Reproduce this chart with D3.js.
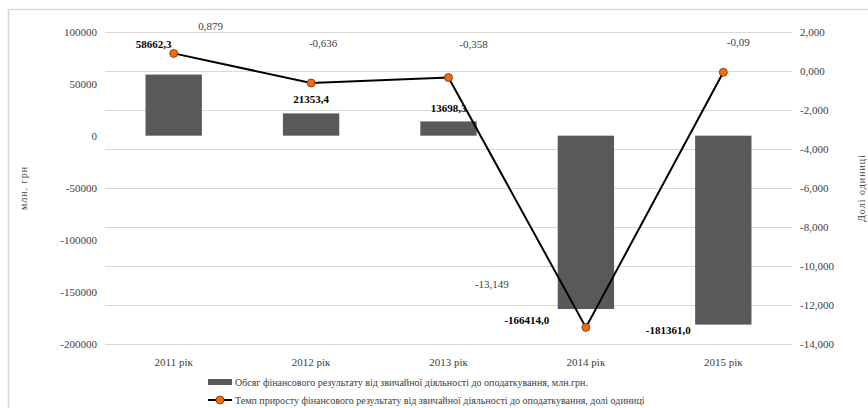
<!DOCTYPE html>
<html>
<head>
<meta charset="utf-8">
<script src="https://d3js.org/d3.v7.min.js"></script>
<style>
  body { margin: 0; background: #fff; }
</style>
</head>
<body>
<svg width="868" height="408"></svg>
<script>
// data
var years = ["2011 рік", "2012 рік", "2013 рік", "2014 рік", "2015 рік"];
var volume = [58662.3, 21353.4, 13698.3, -166414.0, -181361.0];
var growth = [0.879, -0.636, -0.358, -13.149, -0.09];
var volumeLabels = ["58662,3", "21353,4", "13698,3", "-166414,0", "-181361,0"];
var growthLabels = ["0,879", "-0,636", "-0,358", "-13,149", "-0,09"];
var leftTicks = [100000, 50000, 0, -50000, -100000, -150000, -200000];
var rightTicks = [2, 0, -2, -4, -6, -8, -10, -12, -14];
var seriesNames = [
  "Обсяг фінансового результату від звичайної діяльності до оподаткування, млн.грн.",
  "Темп приросту фінансового результату від звичайної діяльності до оподаткування, долі одиниці"
];

var svg = d3.select("svg");

// chart border (cropped on right/bottom)
svg.append("rect")
  .attr("x", 8.5).attr("y", 9.5)
  .attr("width", 900).attr("height", 420)
  .attr("fill", "none")
  .attr("stroke", "#d9d9d9")
  .attr("stroke-width", 1.5);

var plotLeft = 105, plotRight = 792, plotTop = 31.5, plotBottom = 344;

var x = d3.scaleBand().domain(years).range([plotLeft, plotRight]).paddingInner(0.59).paddingOuter(0.295);
var xc = d3.scaleBand().domain(years).range([plotLeft, plotRight]);
var yL = d3.scaleLinear().domain([-200000, 100000]).range([plotBottom, plotTop]);
var yR = d3.scaleLinear().domain([-14, 2]).range([plotBottom, plotTop]);

// gridlines (from right axis)
svg.append("g").selectAll("line")
  .data(rightTicks)
  .enter().append("line")
  .attr("x1", plotLeft).attr("x2", plotRight)
  .attr("y1", function(d) { return Math.round(yR(d)) + 0.5; })
  .attr("y2", function(d) { return Math.round(yR(d)) + 0.5; })
  .attr("stroke", "#d9d9d9")
  .attr("stroke-width", 1);

// left axis
var leftAxis = d3.axisLeft(yL).tickValues(leftTicks).tickSize(0).tickPadding(8)
  .tickFormat(function(d) { return String(d); });
var gL = svg.append("g").attr("transform", "translate(" + plotLeft + ",0)").call(leftAxis);
gL.select(".domain").remove();
gL.selectAll("text").attr("fill", "#404040");

// right axis
var rightAxis = d3.axisRight(yR).tickValues(rightTicks).tickSize(0).tickPadding(8)
  .tickFormat(function(d) { return d3.format(".3f")(d).replace(".", ",").replace("−", "-"); });
var gR = svg.append("g").attr("transform", "translate(" + plotRight + ",0)").call(rightAxis);
gR.select(".domain").remove();
gR.selectAll("text").attr("fill", "#404040");

// x axis labels
var gX = svg.append("g").attr("transform", "translate(0," + (plotBottom + 6) + ")")
  .call(d3.axisBottom(xc).tickSize(0).tickPadding(8));
gX.select(".domain").remove();
gX.selectAll("text").attr("fill", "#404040");

// bars
svg.append("g").selectAll("rect")
  .data(volume)
  .enter().append("rect")
  .attr("x", function(d, i) { return x(years[i]); })
  .attr("width", x.bandwidth())
  .attr("y", function(d) { return yL(Math.max(0, d)); })
  .attr("height", function(d) { return Math.abs(yL(d) - yL(0)); })
  .attr("fill", "#595959");

// line
var line = d3.line()
  .x(function(d, i) { return xc(years[i]) + xc.bandwidth() / 2; })
  .y(function(d) { return yR(d); });
svg.append("path")
  .datum(growth)
  .attr("d", line)
  .attr("fill", "none")
  .attr("stroke", "#000")
  .attr("stroke-width", 2);

svg.append("g").selectAll("circle")
  .data(growth)
  .enter().append("circle")
  .attr("cx", function(d, i) { return xc(years[i]) + xc.bandwidth() / 2; })
  .attr("cy", function(d) { return yR(d); })
  .attr("r", 4)
  .attr("fill", "#f26b0f")
  .attr("stroke", "#7a3000")
  .attr("stroke-width", 0.8);

// bar data labels (bold)
var volLabelPos = [[-20, 44], [0, 99], [0, 108], [-59, 320], [-55, 330]];
svg.append("g").selectAll("text")
  .data(volumeLabels)
  .enter().append("text")
  .attr("x", function(d, i) { return xc(years[i]) + xc.bandwidth() / 2 + volLabelPos[i][0]; })
  .attr("y", function(d, i) { return volLabelPos[i][1] + 4; })
  .attr("text-anchor", "middle")
  .attr("font-weight", "bold")
  .attr("fill", "#000")
  .text(function(d) { return d; });

// growth data labels
var growthLabelPos = [[37, 26], [12, 43], [25, 44], [-94, 284], [15, 42]];
svg.append("g").selectAll("text")
  .data(growthLabels)
  .enter().append("text")
  .attr("x", function(d, i) { return xc(years[i]) + xc.bandwidth() / 2 + growthLabelPos[i][0]; })
  .attr("y", function(d, i) { return growthLabelPos[i][1] + 4; })
  .attr("text-anchor", "middle")
  .attr("fill", "#404040")
  .text(function(d) { return d; });

svg.selectAll("text")
  .style("font-family", "'Liberation Serif'")
  .style("font-size", "11px");

// axis titles
svg.append("text")
  .attr("transform", "translate(27,188) rotate(-90)")
  .attr("text-anchor", "middle")
  .attr("fill", "#404040")
  .attr("letter-spacing", "1px")
  .text("млн. грн");
svg.append("text")
  .attr("transform", "translate(865,188) rotate(-90)")
  .attr("text-anchor", "middle")
  .attr("fill", "#404040")
  .attr("letter-spacing", "1px")
  .text("Долі одиниці");

// legend
var lg = svg.append("g");
lg.append("rect").attr("x", 208).attr("y", 379).attr("width", 24).attr("height", 6).attr("fill", "#595959");
lg.append("text").attr("x", 235).attr("y", 386).attr("fill", "#404040").text(seriesNames[0]);
lg.append("line").attr("x1", 208).attr("x2", 232).attr("y1", 400).attr("y2", 400).attr("stroke", "#000").attr("stroke-width", 2);
lg.append("circle").attr("cx", 220).attr("cy", 400).attr("r", 4).attr("fill", "#f26b0f").attr("stroke", "#7a3000").attr("stroke-width", 0.8);
lg.append("text").attr("x", 235).attr("y", 404).attr("fill", "#404040").text(seriesNames[1]);

svg.selectAll("text").filter(function() { return !this.style.fontFamily; })
  .style("font-family", "'Liberation Serif'")
  .style("font-size", "10px");
</script>
</body>
</html>
